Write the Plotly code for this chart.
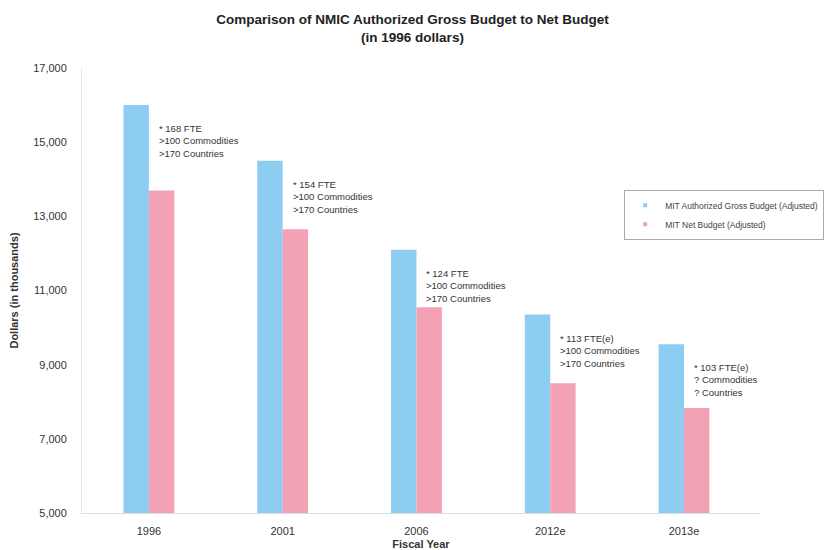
import plotly.graph_objects as go

years = ["1996", "2001", "2006", "2012e", "2013e"]
gross = [16000, 14500, 12100, 10350, 9550]
net = [13700, 12650, 10550, 8500, 7830]
notes = [
    "* 168 FTE<br>>100 Commodities<br>>170 Countries",
    "* 154 FTE<br>>100 Commodities<br>>170 Countries",
    "* 124 FTE<br>>100 Commodities<br>>170 Countries",
    "* 113 FTE(e)<br>>100 Commodities<br>>170 Countries",
    "* 103 FTE(e)<br>? Commodities<br>? Countries",
]
series_names = ["MIT Authorized Gross Budget (Adjusted)", "MIT Net Budget (Adjusted)"]
y_ticks = [5000, 7000, 9000, 11000, 13000, 15000, 17000]

FONT = "Liberation Sans, Arial, sans-serif"
BLUE = "#8ECDF2"
PINK = "#F3A1B4"

fig = go.Figure()
fig.add_trace(go.Bar(x=years, y=gross, name=series_names[0], showlegend=False,
                     marker=dict(color=BLUE, line=dict(width=0))))
fig.add_trace(go.Bar(x=years, y=net, name=series_names[1], showlegend=False,
                     marker=dict(color=PINK, line=dict(width=0))))
# legend entries with small square swatches, like the reference
for nm, col in zip(series_names, [BLUE, PINK]):
    fig.add_trace(go.Scatter(x=[None], y=[None], mode="markers", name=nm,
                             marker=dict(symbol="square", size=4, color=col)))

# category axis: annotate by category index
for i, (g, txt) in enumerate(zip(gross, notes)):
    fig.add_annotation(x=i, y=g, text=txt, showarrow=False, xanchor="left", yanchor="top",
                       align="left", xshift=8, yshift=-16,
                       font=dict(family=FONT, size=9.5, color="#333333"))

fig.update_layout(
    width=825, height=550,
    paper_bgcolor="white", plot_bgcolor="white",
    margin=dict(l=82, r=65, t=68, b=37, autoexpand=False),
    barmode="group", bargap=0.62, bargroupgap=0,
    font=dict(family=FONT, color="#333333"),
    title=dict(text="<b>Comparison of NMIC Authorized Gross Budget to Net Budget<br>(in 1996 dollars)</b>",
               x=0.5, xanchor="center", y=0.956, yanchor="middle",
               font=dict(family=FONT, size=13.5, color="#222222")),
    legend=dict(xref="container", yref="container", x=0.999, y=0.655,
                xanchor="right", yanchor="top",
                bordercolor="#aaaaaa", borderwidth=1, bgcolor="white",
                font=dict(family=FONT, size=8.5, color="#444444"),
                itemwidth=30),
    showlegend=True,
)
fig.update_xaxes(type="category", categoryorder="array", categoryarray=years,
                 automargin=False,
                 showline=True, linecolor="#dddddd", linewidth=1, ticks="",
                 ticklabelstandoff=8,
                 tickfont=dict(family=FONT, size=11, color="#333333"),
                 title=dict(text="<b>Fiscal Year</b>", standoff=4,
                            font=dict(family=FONT, size=11, color="#333333")))
fig.update_yaxes(range=[5000, 17000], tickvals=y_ticks, tickformat=",d",
                 automargin=False,
                 showgrid=False, zeroline=False,
                 showline=True, linecolor="#e6e6e6", linewidth=1, ticks="",
                 ticklabelstandoff=12,
                 tickfont=dict(family=FONT, size=11, color="#333333"),
                 title=dict(text="<b>Dollars (in thousands)</b>", standoff=12,
                            font=dict(family=FONT, size=11, color="#333333")))

fig.write_html("out.html")
